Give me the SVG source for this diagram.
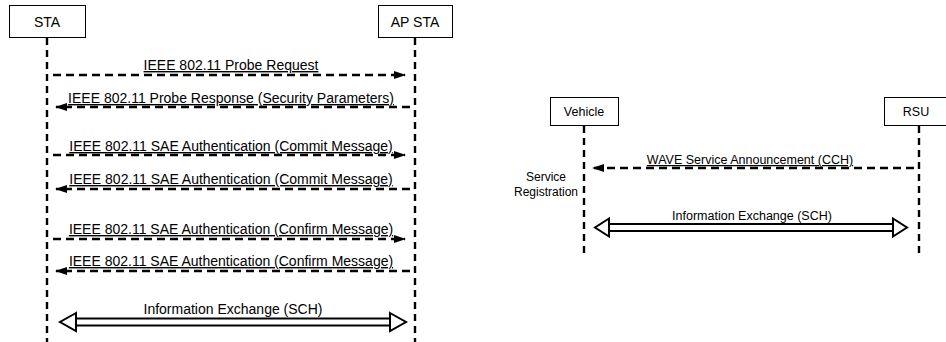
<svg xmlns="http://www.w3.org/2000/svg" width="946" height="342" viewBox="0 0 946 342">
<style>
.box{fill:#fff;stroke:#000;stroke-width:1}
.lbl{font-family:"Liberation Sans",Arial,sans-serif;font-size:14px;fill:#000;text-anchor:middle}
.msg{font-family:"Liberation Sans",Arial,sans-serif;font-size:14px;fill:#000;text-anchor:middle;text-decoration:underline}
.r{font-size:12.5px}
.sr{font-size:12px}
.life{stroke:#000;stroke-width:2.4;stroke-dasharray:7 5;fill:none}
.dash{stroke:#000;stroke-width:2.5;stroke-dasharray:8 5;fill:none}
.shaft{stroke:#000;stroke-width:2;fill:none}
.head{fill:#fff;stroke:#000;stroke-width:2;stroke-linejoin:miter}
</style>
<defs>
<marker id="ah" markerUnits="userSpaceOnUse" markerWidth="12" markerHeight="8" refX="11" refY="4" orient="auto">
<path d="M0,0 L12,4 L0,8 z" fill="#000"/>
</marker>
</defs>
<rect width="946" height="342" fill="#fff"/>
<g id="sta"><rect class="box" x="9.5" y="5.5" width="76" height="32"/><text class="lbl" x="47" y="27">STA</text><line class="life" x1="47" y1="38" x2="47" y2="342"/></g>
<g id="apsta"><rect class="box" x="378.5" y="5.5" width="74" height="32"/><text class="lbl" x="415" y="27">AP STA</text><line class="life" x1="415" y1="38" x2="415" y2="342"/></g>
<g id="vehicle"><rect class="box" x="550.5" y="97.5" width="68" height="28"/><text class="lbl r" x="584" y="116">Vehicle</text><line class="life" x1="584" y1="126" x2="584" y2="253"/></g>
<g id="rsu"><rect class="box" x="884.5" y="97.5" width="66" height="28"/><text class="lbl r" x="916" y="116">RSU</text><line class="life" x1="919" y1="126" x2="919" y2="253"/></g>
<g id="service-registration"><text class="lbl sr" x="546" y="181">Service</text><text class="lbl sr" x="546" y="196">Registration</text></g>
<g id="connectors">
<line class="dash" x1="53" y1="75" x2="405" y2="75" marker-end="url(#ah)"/>
<text class="msg" x="231" y="70">IEEE 802.11 Probe Request</text>
<line class="dash" x1="410" y1="107" x2="56" y2="107" marker-end="url(#ah)"/>
<text class="msg" x="231" y="103">IEEE 802.11 Probe Response (Security Parameters)</text>
<line class="dash" x1="53" y1="155" x2="405" y2="155" marker-end="url(#ah)"/>
<text class="msg" x="231" y="151">IEEE 802.11 SAE Authentication (Commit Message)</text>
<line class="dash" x1="410" y1="189" x2="56" y2="189" marker-end="url(#ah)"/>
<text class="msg" x="231" y="184">IEEE 802.11 SAE Authentication (Commit Message)</text>
<line class="dash" x1="53" y1="239" x2="405" y2="239" marker-end="url(#ah)"/>
<text class="msg" x="231" y="234">IEEE 802.11 SAE Authentication (Confirm Message)</text>
<line class="dash" x1="410" y1="271" x2="56" y2="271" marker-end="url(#ah)"/>
<text class="msg" x="231" y="266">IEEE 802.11 SAE Authentication (Confirm Message)</text>
<text class="lbl" x="233" y="314">Information Exchange (SCH)</text>
<line class="shaft" x1="76" y1="318.5" x2="390" y2="318.5"/>
<line class="shaft" x1="76" y1="325.5" x2="390" y2="325.5"/>
<path class="head" d="M76,313 L60,322 L76,331 z"/>
<path class="head" d="M390,313 L406,322 L390,331 z"/>
<line class="dash" x1="914" y1="168" x2="593" y2="168" marker-end="url(#ah)"/>
<text class="msg r" x="750" y="164">WAVE Service Announcement (CCH)</text>
<text class="lbl r" x="752" y="220">Information Exchange (SCH)</text>
<line class="shaft" x1="609" y1="224" x2="893" y2="224"/>
<line class="shaft" x1="609" y1="231" x2="893" y2="231"/>
<path class="head" d="M609,218.5 L595,227.5 L609,236.5 z"/>
<path class="head" d="M893,218.5 L907,227.5 L893,236.5 z"/>
</g>
</svg>
